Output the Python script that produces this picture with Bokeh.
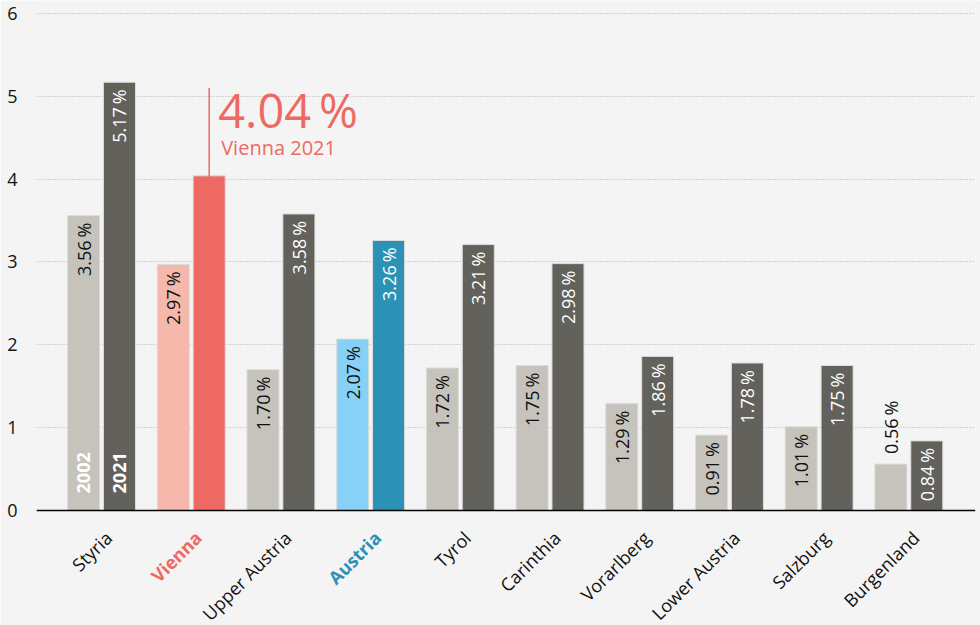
import math
from bokeh.plotting import figure
from bokeh.models import ColumnDataSource, Label, FixedTicker, Range1d, Span
from bokeh.core.properties import value
from bokeh.embed import file_html
from bokeh.resources import INLINE

# ---- data ----
regions = ["Styria", "Vienna", "Upper Austria", "Austria", "Tyrol", "Carinthia",
           "Vorarlberg", "Lower Austria", "Salzburg", "Burgenland"]
values_2002 = [3.56, 2.97, 1.70, 2.07, 1.72, 1.75, 1.29, 0.91, 1.01, 0.56]
values_2021 = [5.17, 4.04, 3.58, 3.26, 3.21, 2.98, 1.86, 1.78, 1.75, 0.84]
y_ticks = [0, 1, 2, 3, 4, 5, 6]
highlight_value = 4.04
highlight_label = "Vienna 2021"

FONT = "Open Sans"
BG = "#f4f4f4"
GRAY_LIGHT = "#c6c3bc"
GRAY_DARK = "#62615c"
RED_LIGHT = "#f7b8ac"
RED = "#ee6963"
BLUE_LIGHT = "#87d1f6"
BLUE = "#2b92b6"

n = len(regions)
idx = list(range(n))
off = 0.2
bw = 0.357

col_2002 = []
col_2021 = []
lab_col = []
lab_bold = []
for r in regions:
    if r == "Vienna":
        col_2002.append(RED_LIGHT); col_2021.append(RED); lab_col.append(RED); lab_bold.append("bold")
    elif r == "Austria":
        col_2002.append(BLUE_LIGHT); col_2021.append(BLUE); lab_col.append(BLUE); lab_bold.append("bold")
    else:
        col_2002.append(GRAY_LIGHT); col_2021.append(GRAY_DARK); lab_col.append("#111111"); lab_bold.append("normal")

# frame: baseline (y=0) at 510px of 625, ~82.8 px per unit
p = figure(width=980, height=625, output_backend="svg", toolbar_location=None,
           x_range=Range1d(-0.725, 9.743), y_range=Range1d(-1.389, 6.157),
           background_fill_color=BG, border_fill_color=BG,
           min_border_left=36, min_border_right=5, min_border_top=0, min_border_bottom=0)
p.outline_line_color = None

# bars
src02 = ColumnDataSource(dict(x=[i - off for i in idx], top=values_2002, color=col_2002))
src21 = ColumnDataSource(dict(x=[i + off for i in idx], top=values_2021, color=col_2021))
p.vbar(x="x", top="top", width=bw, bottom=0, source=src02, fill_color="color",
       line_color="#dcdcdc", line_width=1)
p.vbar(x="x", top="top", width=bw, bottom=0, source=src21, fill_color="color",
       line_color="#dcdcdc", line_width=1)

# baseline
p.add_layout(Span(location=0, dimension="width", line_color="black", line_width=1.5))

pct = lambda v: f"{v:.2f}\u2009%"

# value labels inside bars (2002)
in02 = [i for i in idx if values_2002[i] >= 0.8]
out02 = [i for i in idx if values_2002[i] < 0.8]
p.text(x=[i - off for i in in02], y=[values_2002[i] for i in in02],
       text=[pct(values_2002[i]) for i in in02], angle=math.pi / 2,
       text_align="right", text_baseline="middle", y_offset=7,
       text_font=value(FONT), text_font_size="18px", text_color="#111111")
p.text(x=[i - off for i in out02], y=[values_2002[i] for i in out02],
       text=[pct(values_2002[i]) for i in out02], angle=math.pi / 2,
       text_align="left", text_baseline="middle", y_offset=-10,
       text_font=value(FONT), text_font_size="18px", text_color="#111111")
# 2021 labels (white), skip Vienna which is annotated
in21 = [i for i in idx if regions[i] != "Vienna"]
p.text(x=[i + off for i in in21], y=[values_2021[i] for i in in21],
       text=[pct(values_2021[i]) for i in in21], angle=math.pi / 2,
       text_align="right", text_baseline="middle", y_offset=7,
       text_font=value(FONT), text_font_size="18px", text_color="white")

# year labels in the first group
p.text(x=[0 - off, 0 + off], y=[0, 0], text=["2002", "2021"], angle=math.pi / 2,
       text_align="left", text_baseline="middle", y_offset=-17,
       text_font=value(FONT), text_font_size="18px", text_font_style="bold",
       text_color="white")

# annotation for Vienna 2021
vi = regions.index("Vienna")
p.segment(x0=[vi + off], y0=[highlight_value - 0.15], x1=[vi + off], y1=[5.1],
          line_color=RED, line_width=1.5)
p.add_layout(Label(x=vi + off, y=4.83, x_offset=9, text=pct(highlight_value),
                   text_font=FONT, text_font_size="47px", text_color=RED,
                   text_baseline="alphabetic", text_align="left"))
p.add_layout(Label(x=vi + off, y=4.38, x_offset=12, text=highlight_label,
                   text_font=FONT, text_font_size="20px", text_color=RED,
                   text_baseline="alphabetic", text_align="left"))

# category labels (rotated, drawn inside the extended frame)
lab_src = ColumnDataSource(dict(x=idx, y=[-0.29] * n, text=regions, color=lab_col, style=lab_bold))
p.text(x="x", y="y", text="text", source=lab_src, angle=math.pi / 4,
       x_offset=7, text_align="right", text_baseline="middle",
       text_font=value(FONT), text_font_size="18px",
       text_color="color", text_font_style="style")

# axes and grid
p.xaxis.visible = False
p.xgrid.grid_line_color = None

p.yaxis.ticker = FixedTicker(ticks=y_ticks)
p.yaxis.axis_line_color = None
p.yaxis.major_tick_line_color = None
p.yaxis.major_tick_out = 0
p.yaxis.major_tick_in = 0
p.yaxis.minor_tick_line_color = None
p.yaxis.minor_tick_out = 0
p.yaxis.major_label_text_font = FONT
p.yaxis.major_label_text_font_size = "18px"
p.yaxis.major_label_text_color = "#111111"
p.yaxis.major_label_standoff = 19
p.ygrid.grid_line_color = "#b0b0b0"
p.ygrid.grid_line_dash = "1 2"
p.ygrid.grid_line_width = 1
p.ygrid.ticker = FixedTicker(ticks=[1, 2, 3, 4, 5, 6])

open("out.html", "w").write(file_html(p, INLINE))
